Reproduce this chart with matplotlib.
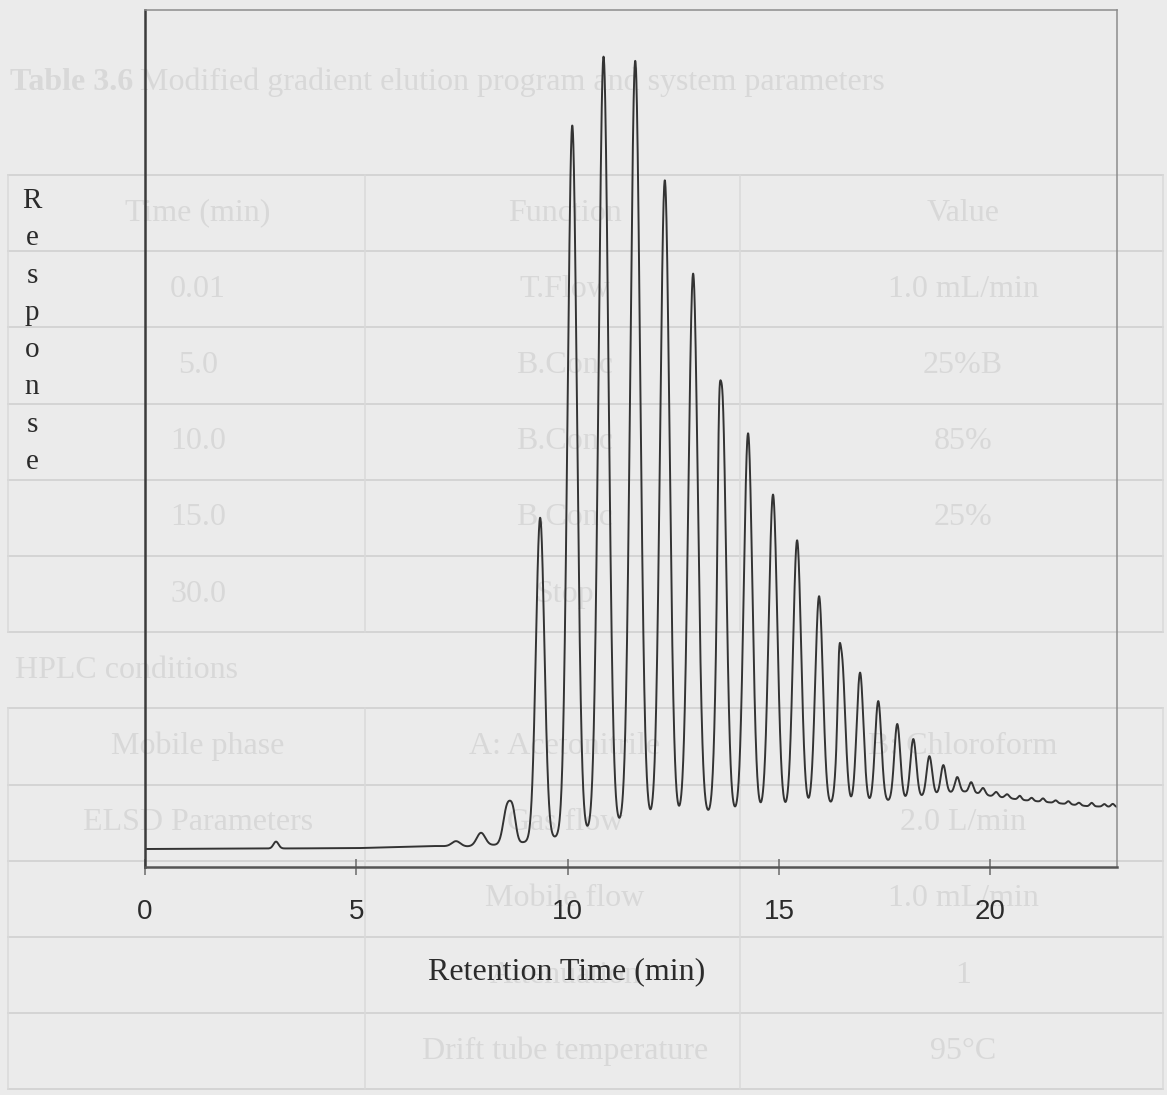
import numpy as np
import matplotlib
matplotlib.use("Agg")
import matplotlib.pyplot as plt

# ELSD chromatogram: peak retention time (min), height above baseline, gaussian sigma (min)
peak_times = [3.10, 7.36, 7.95, 8.57, 8.71, 9.35, 10.11, 10.85, 11.60, 12.30,
              12.97, 13.58, 13.65, 14.27, 14.86, 15.43, 15.95, 16.42, 16.48, 16.92,
              17.35, 17.80, 18.18, 18.56, 18.89, 19.22, 19.55, 19.83, 20.14, 20.40,
              20.70, 20.98, 21.25, 21.55, 21.85, 22.10, 22.40, 22.70, 22.90]
peak_heights = [0.8, 0.6, 1.5, 4.3, 3.0, 37.6, 82.8, 90.1, 88.9, 74.5,
                63.3, 8.0, 49.5, 44.2, 36.9, 31.3, 24.5, 4.0, 17.5, 15.3,
                11.8, 8.9, 6.9, 4.6, 3.3, 1.75, 1.2, 0.75, 0.55, 0.45,
                0.45, 0.35, 0.4, 0.3, 0.35, 0.3, 0.4, 0.3, 0.35]
peak_widths = [0.06, 0.10, 0.10, 0.09, 0.07, 0.10, 0.11, 0.115, 0.115, 0.11,
               0.11, 0.03, 0.10, 0.10, 0.10, 0.095, 0.09, 0.03, 0.085, 0.08,
               0.075, 0.07, 0.07, 0.065, 0.06, 0.055, 0.05, 0.05, 0.05, 0.05,
               0.04, 0.04, 0.04, 0.04, 0.04, 0.04, 0.04, 0.04, 0.04]

# baseline drift, read at the valleys between peaks
base_times = [0.0, 5.0, 6.8, 7.62, 8.33, 8.99, 9.70, 10.44, 11.15, 11.88, 12.59,
              13.40, 13.96, 14.53, 15.10, 15.69, 16.20, 16.70, 17.10, 17.55, 18.00,
              18.40, 18.75, 19.05, 19.40, 19.70, 20.00, 20.30, 20.80, 21.50, 22.30, 23.0]
base_levels = [2.1, 2.2, 2.45, 2.4, 2.6, 2.9, 3.4, 4.0, 4.8, 5.4, 5.8,
               6.1, 6.3, 6.5, 6.6, 7.0, 7.2, 7.3, 7.45, 7.65, 7.9,
               8.2, 8.5, 8.7, 8.8, 8.6, 8.3, 8.1, 7.8, 7.5, 7.1, 7.0]

x_ticks = [0, 5, 10, 15, 20]
x_label = "Retention Time (min)"
y_label = "Response"

# table printed on the page underneath
table_title = "Modified gradient elution program and system parameters"
table_rows = [
    ("Time (min)", "Function", "Value"),
    ("0.01", "T.Flow", "1.0 mL/min"),
    ("5.0", "B.Conc", "25%B"),
    ("10.0", "B.Conc", "85%"),
    ("15.0", "B.Conc", "25%"),
    ("30.0", "Stop", ""),
    ("HPLC conditions", None, None),
    ("Mobile phase", "A: Acetonitrile", "B: Chloroform"),
    ("ELSD Parameters", "Gas flow", "2.0 L/min"),
    ("", "Mobile flow", "1.0 mL/min"),
    ("", "Attenuation", "1"),
    ("", "Drift tube temperature", "95°C"),
]

W, H = 1167, 1095
paper = "#ebebeb"
faint = "#d8d8d8"
ink = "#2b2b2b"
serif = ["Liberation Serif", "DejaVu Serif"]
sans = ["Liberation Sans", "DejaVu Sans"]

fig = plt.figure(figsize=(W / 100, H / 100), dpi=100, facecolor=paper)

# background layer in pixel units
bg = fig.add_axes([0, 0, 1, 1])
bg.set_xlim(0, W)
bg.set_ylim(H, 0)
bg.axis("off")

bg.text(10, 82, "Table 3.6", family=serif, fontsize=23, weight="bold",
        color=faint, va="center", ha="left")
bg.text(140, 82, table_title, family=serif, fontsize=23, color=faint,
        va="center", ha="left")

row_top = 175
row_h = 76.2
col_x = [8, 365, 740, 1163]
col_mid = [198, 565, 963]
for k in range(len(table_rows) + 1):
    yy = row_top + k * row_h
    bg.plot([col_x[0], col_x[-1]], [yy, yy], color="#d2d2d2", lw=1.3)
for i, row in enumerate(table_rows):
    y0 = row_top + i * row_h
    yc = y0 + row_h / 2
    if row[1] is None:
        bg.text(15, yc, row[0], family=serif, fontsize=23, color=faint,
                ha="left", va="center")
        continue
    for cx in col_x:
        bg.plot([cx, cx], [y0, y0 + row_h], color="#d9d9d9", lw=1.1)
    for txt, cx in zip(row, col_mid):
        bg.text(cx, yc, txt, family=serif, fontsize=23, color=faint,
                ha="center", va="center")

# chromatogram trace
t = np.linspace(0, 23, 5000)
signal = np.interp(t, base_times, base_levels)
for tr, h, s in zip(peak_times, peak_heights, peak_widths):
    signal += h * np.exp(-0.5 * ((t - tr) / s) ** 2)

ax = fig.add_axes([145 / W, 1 - 867 / H, (1117 - 145) / W, (867 - 10) / H])
ax.set_facecolor("none")
ax.set_zorder(2)
ax.plot(t, signal, color="#333333", lw=1.4)
ax.set_xlim(0, 23)
ax.set_ylim(0, 100)

ax.set_xticks(x_ticks)
ax.set_xticklabels([str(v) for v in x_ticks], family=sans)
ax.tick_params(axis="x", direction="inout", length=12, width=1.1,
               color="#6a6a6a", pad=17, labelsize=20, labelcolor=ink)
ax.set_yticks([])

ax.spines["left"].set_color("#3c3c3c")
ax.spines["left"].set_linewidth(1.8)
ax.spines["bottom"].set_color("#555555")
ax.spines["bottom"].set_linewidth(1.8)
for side in ("top", "right"):
    ax.spines[side].set_color("#8c8c8c")
    ax.spines[side].set_linewidth(1.1)

# axis titles
bg.text(567, 972, x_label, family=serif, fontsize=23, color=ink,
        ha="center", va="center")
for i, ch in enumerate(y_label):
    bg.text(32, 208 + i * 37.3, ch, family=serif, fontsize=21, color=ink,
            ha="center", va="baseline")

fig.savefig("out.png", dpi=100, facecolor=paper)
